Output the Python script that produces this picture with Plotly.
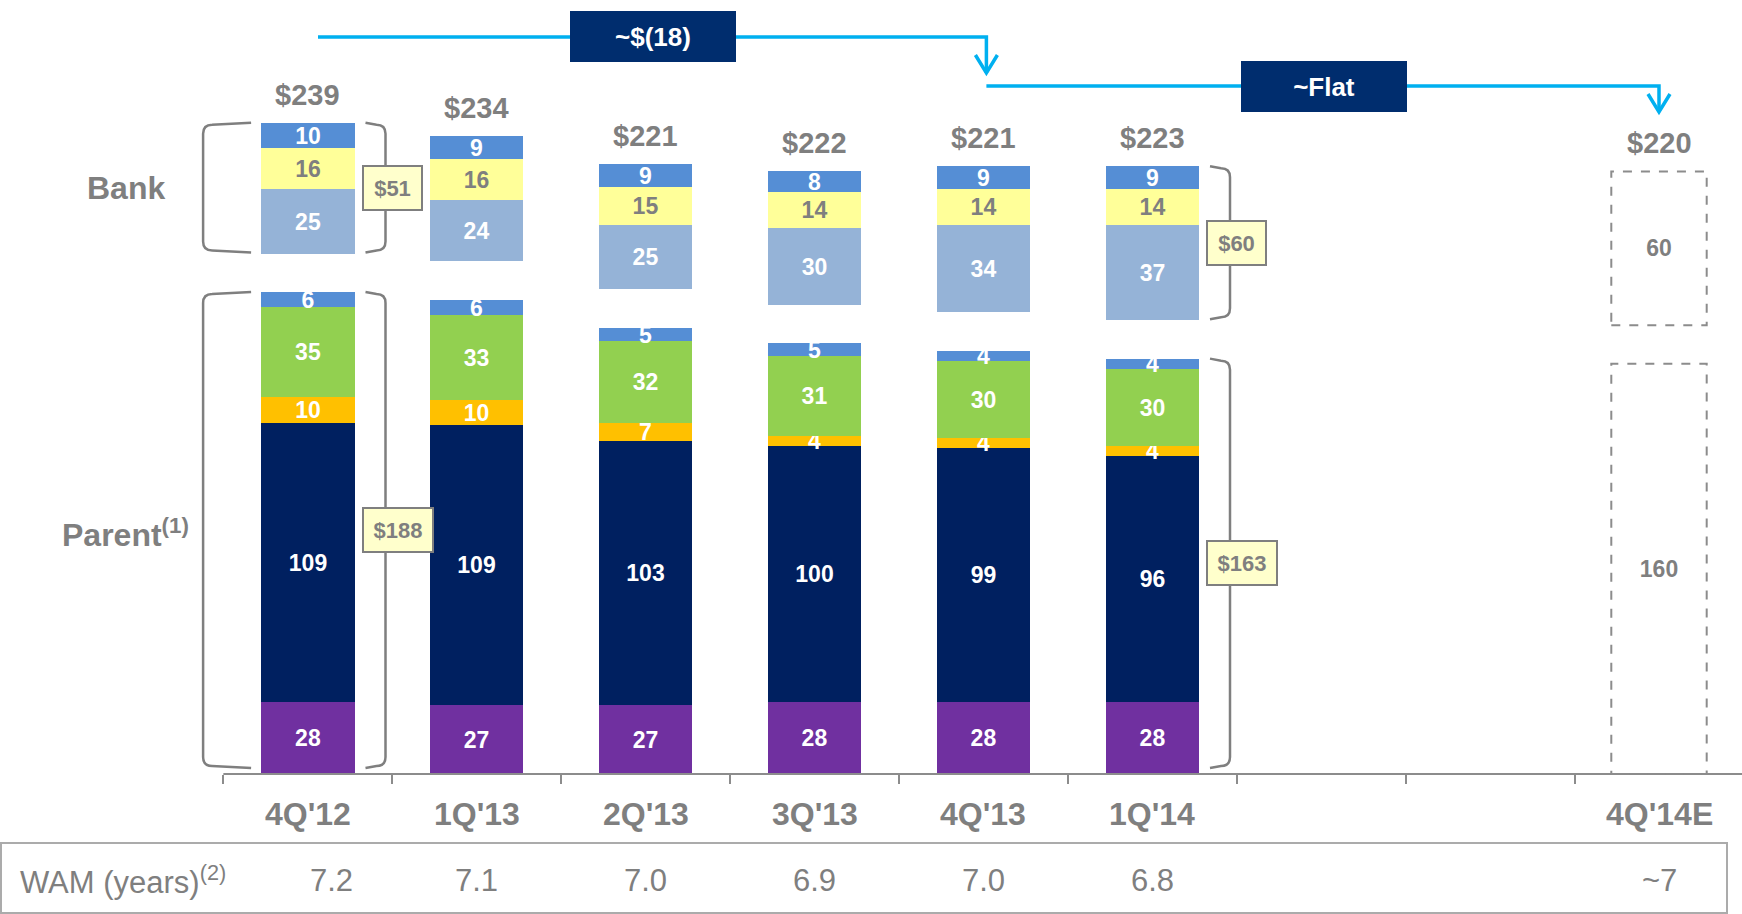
import plotly.graph_objects as go

# ---------------- data ----------------
categories = ["4Q'12", "1Q'13", "2Q'13", "3Q'13", "4Q'13", "1Q'14", "", "", "4Q'14E"]

# Parent segments, bottom -> top
parent_purple = [28, 27, 27, 28, 28, 28]
parent_navy = [109, 109, 103, 100, 99, 96]
parent_gold = [10, 10, 7, 4, 4, 4]
parent_green = [35, 33, 32, 31, 30, 30]
parent_blue = [6, 6, 5, 5, 4, 4]

# Bank segments, bottom -> top
bank_steel = [25, 24, 25, 30, 34, 37]
bank_yellow = [16, 16, 15, 14, 14, 14]
bank_blue = [10, 9, 9, 8, 9, 9]

total_labels = ["$239", "$234", "$221", "$222", "$221", "$223"]
parent_callouts = ["$188", "", "", "", "", "$163"]
bank_callouts = ["$51", "", "", "", "", "$60"]

est_parent = 160
est_bank = 60
est_total_label = "$220"

wam_values = ["7.2", "7.1", "7.0", "6.9", "7.0", "6.8", "", "", "~7"]
change_labels = ["~$(18)", "~Flat"]

# ---------------- layout constants ----------------
FIG_W, FIG_H = 1742, 914
SLOT_PX = 168.9          # pixels per category slot
X0_PX = 307.8            # pixel x of first category centre
UNIT_PX = 2.564          # pixels per $bn
BASE_PX = 774            # pixel y of zero line
GAP = 15                 # visual gap between Parent and Bank stacks
BAR_W = 0.553
FONT = "Arial, Liberation Sans, sans-serif"
GRAY = "#7F7F7F"
LINE_GRAY = "#8C8C8C"
CYAN = "#00B0F0"
NAVY_BOX = "#002D6E"


def xpx(px):
    return (px - X0_PX) / SLOT_PX


def ypx(py):
    return (BASE_PX - py) / UNIT_PX


def dx(px):
    return px / SLOT_PX


def dy(px):
    return px / UNIT_PX


x_lo, x_hi = xpx(0), xpx(FIG_W)
y_lo, y_hi = ypx(FIG_H), ypx(0)

n = len(parent_purple)
xs = list(range(n))
est_x = categories.index("4Q'14E")

parent_series = [
    (parent_purple, "#7030A0", "white"),
    (parent_navy, "#002060", "white"),
    (parent_gold, "#FFC000", "white"),
    (parent_green, "#92D050", "white"),
    (parent_blue, "#558ED5", "white"),
]
bank_series = [
    (bank_steel, "#95B3D7", "white"),
    (bank_yellow, "#FFFF99", GRAY),
    (bank_blue, "#558ED5", "white"),
]

parent_tot = [sum(s[0][i] for s in parent_series) for i in xs]
bank_tot = [sum(s[0][i] for s in bank_series) for i in xs]
bank_base = [parent_tot[i] + GAP for i in xs]

fig = go.Figure()


def add_stack(series, start):
    base = list(start)
    for vals, color, tcolor in series:
        fig.add_trace(go.Bar(
            x=xs, y=vals, base=list(base), width=BAR_W,
            marker=dict(color=color, line=dict(width=0)),
            text=[str(v) for v in vals], textposition="inside",
            insidetextanchor="middle", textangle=0, constraintext="none",
            textfont=dict(family=FONT, size=23, color=tcolor, weight="bold"),
            hoverinfo="skip", showlegend=False,
        ))
        base = [b + v for b, v in zip(base, vals)]


add_stack(parent_series, [0] * n)
add_stack(bank_series, bank_base)

# estimate (outlined only)
for val, base in [(est_parent, 0), (est_bank, est_parent + GAP)]:
    fig.add_trace(go.Bar(
        x=[est_x], y=[val], base=[base], width=BAR_W,
        marker=dict(color="rgba(0,0,0,0)", line=dict(width=0)),
        text=[str(val)], textposition="inside", insidetextanchor="middle",
        textangle=0, constraintext="none",
        textfont=dict(family=FONT, size=23, color=GRAY, weight="bold"),
        hoverinfo="skip", showlegend=False,
    ))

shapes = []
annotations = []

# baseline
shapes.append(dict(type="line", xref="x", yref="y", x0=-0.5, x1=x_hi, y0=0, y1=0,
                   line=dict(color=LINE_GRAY, width=2)))

# dashed estimate boxes
for y0, y1 in [(0, est_parent), (est_parent + GAP, est_parent + GAP + est_bank)]:
    shapes.append(dict(type="rect", xref="x", yref="y",
                       x0=est_x - BAR_W / 2 - dx(1), x1=est_x + BAR_W / 2 + dx(1),
                       y0=y0, y1=y1,
                       line=dict(color="#8C8C8C", width=2, dash="dash")))


def bracket_path(x_tail, x_v, y0, y1):
    s = 1 if x_tail > x_v else -1
    rx = dx(9) * s
    ry = dy(9)
    return (f"M {x_tail},{y1 + dy(2)} L {x_v + rx},{y1} Q {x_v},{y1} {x_v},{y1 - ry} "
            f"L {x_v},{y0 + ry} Q {x_v},{y0} {x_v + rx},{y0} L {x_tail},{y0 - dy(2)}")


bracket_line = dict(color="#7F7F7F", width=2.5)
for i in xs:
    if not parent_callouts[i] and not bank_callouts[i]:
        continue
    left, right = i - BAR_W / 2, i + BAR_W / 2
    ranges = [
        (dy(8), parent_tot[i] - dy(2), parent_callouts[i]),
        (bank_base[i] + dy(3), bank_base[i] + bank_tot[i] - dy(2), bank_callouts[i]),
    ]
    xv_r = right + dx(31)
    for y0, y1, lab in ranges:
        shapes.append(dict(type="path", xref="x", yref="y",
                           path=bracket_path(right + dx(11), xv_r, y0, y1),
                           line=bracket_line))
        if i == 0:
            shapes.append(dict(type="path", xref="x", yref="y",
                               path=bracket_path(left - dx(10), left - dx(58), y0, y1),
                               line=bracket_line))
        annotations.append(dict(
            x=xv_r - dx(24), y=(y0 + y1) / 2, xref="x", yref="y",
            xanchor="left", yanchor="middle", showarrow=False, text=lab,
            width=11 * len(lab) + 24, height=42,
            font=dict(family=FONT, size=22, color=GRAY, weight="bold"),
            bgcolor="#FFFFCC", bordercolor="#7F7F7F", borderwidth=2, borderpad=0,
        ))

# left group labels
annotations.append(dict(x=xpx(125.5), y=bank_base[0] + bank_tot[0] / 2, xref="x", yref="y",
                        showarrow=False, text="Bank", xanchor="center", yanchor="middle",
                        font=dict(family=FONT, size=32, color=GRAY, weight="bold")))
annotations.append(dict(x=xpx(125), y=parent_tot[0] / 2, xref="x", yref="y",
                        showarrow=False, text="Parent<sup>(1)</sup>", xanchor="center",
                        yanchor="middle",
                        font=dict(family=FONT, size=32, color=GRAY, weight="bold")))

# totals above bars
for i in xs:
    annotations.append(dict(x=i, y=bank_base[i] + bank_tot[i], xref="x", yref="y",
                            yshift=28, showarrow=False, text=total_labels[i],
                            xanchor="center", yanchor="middle",
                            font=dict(family=FONT, size=29, color=GRAY, weight="bold")))
annotations.append(dict(x=est_x, y=est_parent + GAP + est_bank, xref="x", yref="y",
                        yshift=28, showarrow=False, text=est_total_label,
                        xanchor="center", yanchor="middle",
                        font=dict(family=FONT, size=29, color=GRAY, weight="bold")))

# category labels
for i, c in enumerate(categories):
    if c:
        annotations.append(dict(x=i, y=ypx(814), xref="x", yref="y", showarrow=False,
                                text=c, xanchor="center", yanchor="middle",
                                font=dict(family=FONT, size=32, color=GRAY, weight="bold")))

# WAM table
shapes.append(dict(type="rect", xref="x", yref="y", x0=xpx(1), x1=xpx(1727),
                   y0=ypx(843), y1=ypx(913), line=dict(color="#ABABAB", width=2)))
annotations.append(dict(x=xpx(18), y=ypx(880), xref="x", yref="y", showarrow=False,
                        text="WAM (years)<sup>(2)</sup>", xanchor="left", yanchor="middle",
                        font=dict(family=FONT, size=31, color=GRAY)))
for i, v in enumerate(wam_values):
    if v:
        annotations.append(dict(x=i, y=ypx(880), xref="x", yref="y", showarrow=False,
                                text=v, xanchor="center", yanchor="middle",
                                xshift=24 if i == 0 else 0,
                                font=dict(family=FONT, size=31, color=GRAY)))

# change arrows
arrow_line = dict(color=CYAN, width=3.5)


def arrow(xs_, xe, y, ytip):
    shapes.append(dict(type="path", xref="x", yref="y",
                       path=f"M {xs_},{y} L {xe},{y} L {xe},{ytip}", line=arrow_line))
    shapes.append(dict(type="path", xref="x", yref="y",
                       path=(f"M {xe - dx(11)},{ytip + dy(18)} L {xe},{ytip} "
                             f"L {xe + dx(11)},{ytip + dy(18)}"), line=arrow_line))


x_4q13 = categories.index("4Q'13") + dx(3)
arrow(xpx(318), x_4q13, ypx(37), ypx(73))
arrow(x_4q13, est_x, ypx(86), ypx(112))

for lab, cx, cy in [(change_labels[0], xpx(653), ypx(36.5)),
                    (change_labels[1], xpx(1324), ypx(86))]:
    annotations.append(dict(x=cx, y=cy, xref="x", yref="y", showarrow=False, text=lab,
                            xanchor="center", yanchor="middle", width=166, height=51,
                            bgcolor=NAVY_BOX, borderwidth=0, borderpad=0,
                            font=dict(family=FONT, size=26, color="white", weight="bold")))

fig.update_layout(
    width=FIG_W, height=FIG_H,
    margin=dict(l=0, r=0, t=0, b=0, pad=0),
    paper_bgcolor="white", plot_bgcolor="white",
    barmode="overlay", bargap=0,
    showlegend=False,
    xaxis=dict(range=[x_lo, x_hi], showgrid=False, zeroline=False, showline=False,
               tickmode="array", tickvals=[i - 0.5 for i in range(len(categories))],
               showticklabels=False,
               ticks="outside", ticklen=9, tickwidth=1.5, tickcolor=LINE_GRAY,
               anchor="free", position=(FIG_H - BASE_PX) / FIG_H, fixedrange=True),
    yaxis=dict(range=[y_lo, y_hi], visible=False, fixedrange=True),
    shapes=shapes,
    annotations=annotations,
)

fig.write_html("out.html", config={"displayModeBar": False},
               post_script="document.body.style.margin='0';document.body.style.overflow='hidden';")
